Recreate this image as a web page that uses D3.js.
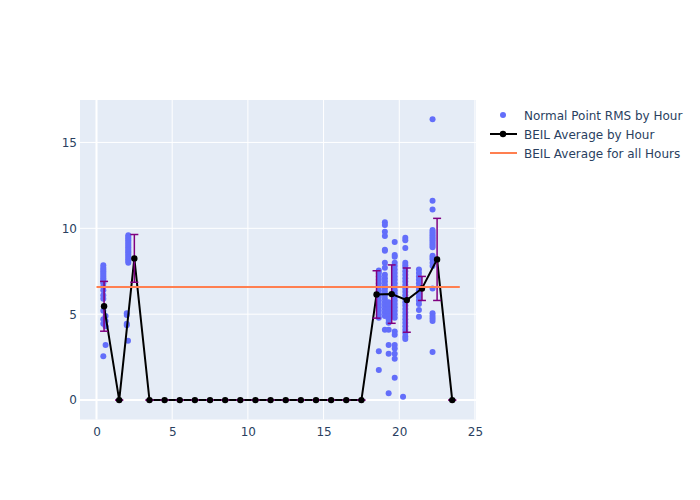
<!DOCTYPE html>
<html>
<head>
<meta charset="utf-8">
<script src="https://cdn.jsdelivr.net/npm/d3@7"></script>
<style>
  body { margin: 0; background: #fff; }
  text { font-family: "DejaVu Sans", verdana, arial, sans-serif; fill: #2a3f5f; }
</style>
</head>
<body>
<div id="chart"></div>
<script>
// normal point RMS, grouped by the time (hour) they sit at
var clusterHours = [0.45, 0.6, 2.1, 2.0, 2.08, 18.65, 19.05, 19.3, 19.7, 20.4, 20.25, 21.3, 22.2];
var clusterValues = [
  [7.85, 7.7, 7.6, 7.5, 7.4, 7.3, 7.2, 7.1, 7.0, 6.9, 6.8, 6.6, 6.4, 6.1, 5.9, 5.2, 4.7, 4.45, 2.55],
  [4.9, 4.6, 4.3, 3.2],
  [9.6, 9.5, 9.4, 9.3, 9.2, 9.1, 9.0, 8.9, 8.8, 8.7, 8.6, 8.5, 8.4, 8.3, 8.2, 8.1, 8.0],
  [5.05, 4.95, 4.45, 4.35],
  [3.45],
  [7.55, 7.4, 7.2, 7.0, 6.8, 6.6, 6.4, 6.2, 6.0, 5.8, 5.6, 5.4, 5.2, 5.0, 4.8, 2.85, 1.75],
  [10.35, 10.2, 9.8, 9.55, 8.75, 8.7, 8.0, 7.7, 7.3, 7.1, 6.9, 6.7, 6.5, 6.3, 6.1, 5.9, 5.7, 5.5, 5.3, 5.1, 4.9, 4.1],
  [5.7, 5.5, 5.3, 5.1, 4.9, 4.7, 4.5, 4.1, 3.2, 2.7, 0.4],
  [9.2, 8.45, 8.35, 8.0, 7.8, 7.6, 7.4, 7.2, 7.0, 6.8, 6.6, 6.4, 6.2, 6.0, 5.8, 5.6, 5.4, 5.2, 5.0, 4.8, 4.0, 3.8, 3.2, 3.0, 2.7, 2.4, 1.3],
  [9.45, 9.3, 8.85, 8.0, 7.85, 7.7, 7.5, 7.3, 7.1, 6.9, 6.7, 6.5, 6.3, 6.1, 5.9, 5.7, 5.5, 5.3, 5.1, 4.9, 4.7, 4.5, 4.3, 4.1, 3.9, 3.7, 3.55],
  [0.2],
  [7.6, 7.4, 7.2, 7.0, 6.8, 6.6, 6.4, 6.2, 6.0, 5.8, 5.6, 5.25, 4.85],
  [16.35, 11.6, 11.1, 9.9, 9.8, 9.7, 9.6, 9.5, 9.4, 9.3, 9.2, 9.1, 9.0, 8.9, 8.4, 8.3, 8.2, 8.0, 7.8, 6.5, 5.05, 4.9, 4.75, 4.6, 2.8]
];

// hourly averages and their spread
var avgHours = [0.5, 1.5, 2.5, 3.5, 4.5, 5.5, 6.5, 7.5, 8.5, 9.5, 10.5, 11.5,
                12.5, 13.5, 14.5, 15.5, 16.5, 17.5, 18.5, 19.5, 20.5, 21.5, 22.5, 23.5];
var avgValues = [5.46, 0, 8.25, 0, 0, 0, 0, 0, 0, 0, 0, 0,
                 0, 0, 0, 0, 0, 0, 6.15, 6.17, 5.82, 6.5, 8.19, 0];
var avgStd = [1.45, 0, 1.39, 0, 0, 0, 0, 0, 0, 0, 0, 0,
              0, 0, 0, 0, 0, 0, 1.38, 1.7, 1.87, 0.7, 2.39, 0];

var overallAvg = 6.58;
var overallRange = [0, 24];

var xTicks = [0, 5, 10, 15, 20, 25];
var yTicks = [0, 5, 10, 15];
var legendNames = ["Normal Point RMS by Hour", "BEIL Average by Hour", "BEIL Average for all Hours"];

var W = 700, H = 500;
var margin = {left: 80, right: 224, top: 100, bottom: 80.5};
var width = W - margin.left - margin.right,
    height = H - margin.top - margin.bottom;

var svg = d3.select("#chart").append("svg").attr("width", W).attr("height", H);

var x = d3.scaleLinear().domain([-1.09, 25.07]).range([0, width]);
var y = d3.scaleLinear().domain([-1.13, 17.47]).range([height, 0]);

var g = svg.append("g").attr("transform", "translate(" + margin.left + "," + margin.top + ")");

g.append("rect").attr("width", width).attr("height", height).attr("fill", "#e5ecf6");

// grid
g.selectAll(".gx").data(xTicks).enter().append("line")
  .attr("x1", function (d) { return x(d); }).attr("x2", function (d) { return x(d); })
  .attr("y1", 0).attr("y2", height)
  .attr("stroke", "#fff").attr("stroke-width", function (d) { return d === 0 ? 2 : 1; });
g.selectAll(".gy").data(yTicks).enter().append("line")
  .attr("y1", function (d) { return y(d); }).attr("y2", function (d) { return y(d); })
  .attr("x1", 0).attr("x2", width)
  .attr("stroke", "#fff").attr("stroke-width", function (d) { return d === 0 ? 2 : 1; });

// axes (labels only)
var xAxis = g.append("g").attr("transform", "translate(0," + height + ")")
  .call(d3.axisBottom(x).tickValues(xTicks).tickSize(0).tickPadding(8));
var yAxis = g.append("g")
  .call(d3.axisLeft(y).tickValues(yTicks).tickSize(0).tickPadding(3));
[xAxis, yAxis].forEach(function (a) {
  a.select(".domain").remove();
  a.selectAll("text").attr("font-size", 12).attr("fill", "#2a3f5f")
    .attr("font-family", "\"DejaVu Sans\", verdana, arial, sans-serif");
});

// scatter points
var points = [];
clusterHours.forEach(function (h, i) {
  clusterValues[i].forEach(function (v) { points.push([h, v]); });
});
g.selectAll(".pt").data(points).enter().append("circle")
  .attr("cx", function (d) { return x(d[0]); })
  .attr("cy", function (d) { return y(d[1]); })
  .attr("r", 3).attr("fill", "#636efa");

// hourly average line
var avgData = avgHours.map(function (h, i) { return {h: h, v: avgValues[i], s: avgStd[i]}; });
g.append("path").datum(avgData)
  .attr("fill", "none").attr("stroke", "#000").attr("stroke-width", 2)
  .attr("d", d3.line().x(function (d) { return x(d.h); }).y(function (d) { return y(d.v); }));

// error bars
var eb = g.selectAll(".eb").data(avgData).enter().append("g").attr("stroke", "#800080").attr("stroke-width", 1.5);
eb.append("line")
  .attr("x1", function (d) { return x(d.h); }).attr("x2", function (d) { return x(d.h); })
  .attr("y1", function (d) { return y(d.v + d.s); }).attr("y2", function (d) { return y(d.v - d.s); });
eb.append("line")
  .attr("x1", function (d) { return x(d.h) - 4; }).attr("x2", function (d) { return x(d.h) + 4; })
  .attr("y1", function (d) { return y(d.v + d.s); }).attr("y2", function (d) { return y(d.v + d.s); });
eb.append("line")
  .attr("x1", function (d) { return x(d.h) - 4; }).attr("x2", function (d) { return x(d.h) + 4; })
  .attr("y1", function (d) { return y(d.v - d.s); }).attr("y2", function (d) { return y(d.v - d.s); });

g.selectAll(".am").data(avgData).enter().append("circle")
  .attr("cx", function (d) { return x(d.h); })
  .attr("cy", function (d) { return y(d.v); })
  .attr("r", 3.2).attr("fill", "#000");

// overall average
g.append("line")
  .attr("x1", x(overallRange[0])).attr("x2", x(overallRange[1]))
  .attr("y1", y(overallAvg)).attr("y2", y(overallAvg))
  .attr("stroke", "#ff7f50").attr("stroke-width", 2);

// legend
var lg = svg.append("g").attr("transform", "translate(490,115)");
lg.append("circle").attr("cx", 13).attr("cy", 0).attr("r", 3).attr("fill", "#636efa");
lg.append("line").attr("x1", 0).attr("x2", 27).attr("y1", 19).attr("y2", 19).attr("stroke", "#000").attr("stroke-width", 2);
lg.append("circle").attr("cx", 13).attr("cy", 19).attr("r", 3.2).attr("fill", "#000");
lg.append("line").attr("x1", 0).attr("x2", 27).attr("y1", 38).attr("y2", 38).attr("stroke", "#ff7f50").attr("stroke-width", 2);
lg.selectAll(".lt").data(legendNames).enter().append("text")
  .attr("x", 34).attr("y", function (d, i) { return i * 19 + 4.5; })
  .attr("font-size", 12).text(function (d) { return d; });
</script>
</body>
</html>
